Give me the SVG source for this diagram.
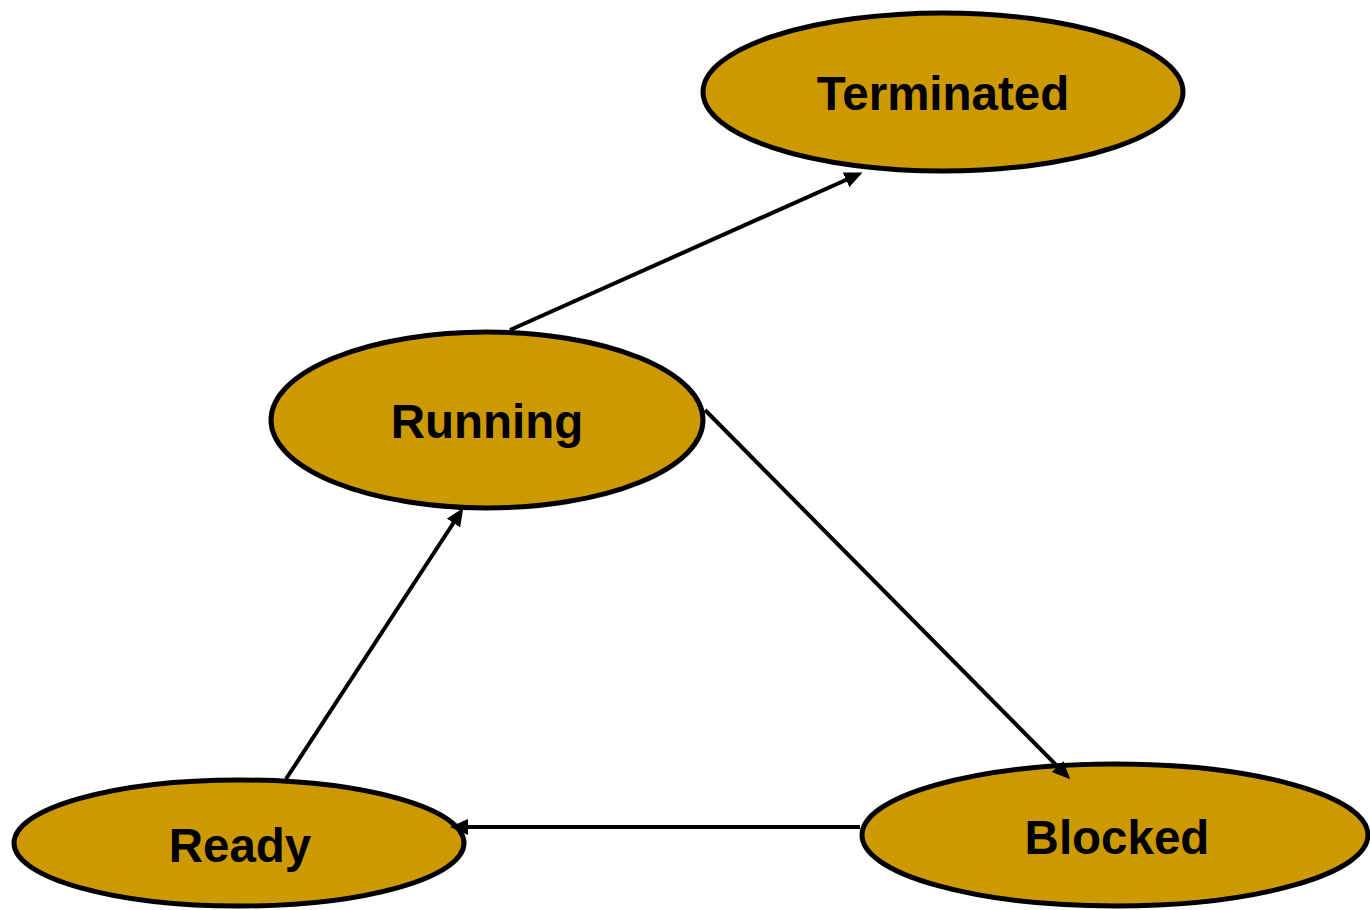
<svg xmlns="http://www.w3.org/2000/svg" width="1370" height="910" viewBox="0 0 1370 910">
<style>
.node ellipse{fill:#CC9900;stroke:#000;stroke-width:5}
.node text{font-family:"Liberation Sans",Arial,sans-serif;font-weight:bold;font-size:47.5px;fill:#000;text-anchor:middle}
.edge{stroke:#000;stroke-width:4;fill:none;marker-end:url(#ah)}
</style>
<defs>
<marker id="ah" markerUnits="userSpaceOnUse" markerWidth="20" markerHeight="18" refX="12" refY="8" orient="auto">
<path d="M0,0 L18,8 L0,16 Z" fill="#000"/>
</marker>
</defs>
<rect width="1370" height="910" fill="#fff"/>
<g id="terminated" class="node">
<ellipse cx="943" cy="92" rx="240" ry="79"/>
<text x="943" y="110">Terminated</text>
</g>
<g id="running" class="node">
<ellipse cx="487" cy="420" rx="216" ry="88"/>
<text x="487" y="438">Running</text>
</g>
<g id="ready" class="node">
<ellipse cx="239" cy="843" rx="225" ry="63"/>
<text x="240" y="862">Ready</text>
</g>
<g id="blocked" class="node">
<ellipse cx="1115" cy="835" rx="253" ry="71"/>
<text x="1117" y="854">Blocked</text>
</g>
<g id="connectors">
<line class="edge" x1="510" y1="330" x2="857" y2="175"/>
<line class="edge" x1="705" y1="410" x2="1066" y2="775"/>
<line class="edge" x1="286" y1="779" x2="460" y2="513"/>
<line class="edge" x1="860" y1="827" x2="456" y2="827"/>
</g>
</svg>
